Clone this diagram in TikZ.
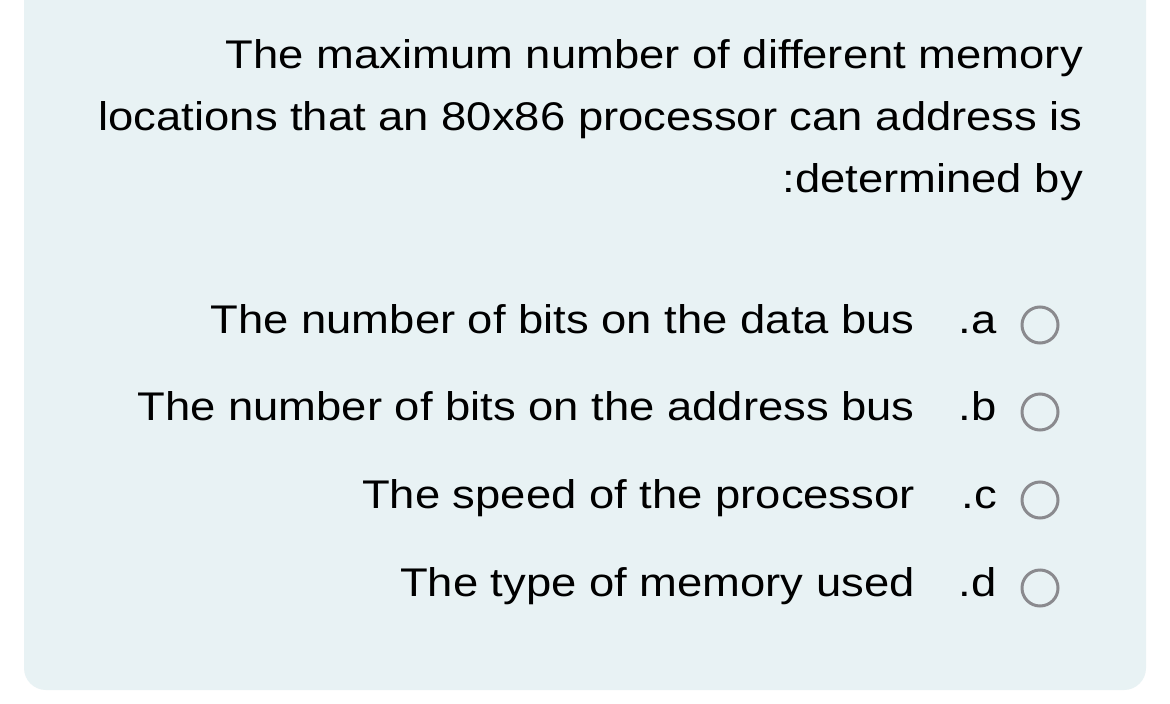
\documentclass[tikz,border=0pt]{standalone}
\usepackage{fontspec}
\setmainfont{Liberation Sans}[FakeStretch=1.135]
\definecolor{panel}{HTML}{E8F2F4}
\definecolor{ring}{HTML}{8A8A8E}
\begin{document}
\begin{tikzpicture}[x=1pt,y=-1pt,
  txt/.style={anchor=base east,inner sep=0pt,font=\fontsize{40}{48}\selectfont,text=black},
  radio/.style={circle,draw=ring,line width=3pt,minimum size=36pt,inner sep=0pt}]
\useasboundingbox[fill=white] (0,0) rectangle (1170,704);
\fill[panel,rounded corners=22pt] (24,-40) rectangle (1146,690);
\node[txt] (q1) at (1083,68) {The maximum number of different memory};
\node[txt] (q2) at (1083,130) {locations that an 80x86 processor can address is};
\node[txt] (q3) at (1083,192) {:determined by};
\foreach \y/\t/\l/\n in {333/The number of bits on the data bus/.a/a,
  420/The number of bits on the address bus/.b/b,
  508/The speed of the processor/.c/c,
  596/The type of memory used/.d/d}{
  \node[txt] (o\n) at (915,\y) {\t};
  \node[txt] (l\n) at (997,\y) {\l};
  \node[radio] (r\n) at (1040,\y-8) {};
}
\end{tikzpicture}
\end{document}
